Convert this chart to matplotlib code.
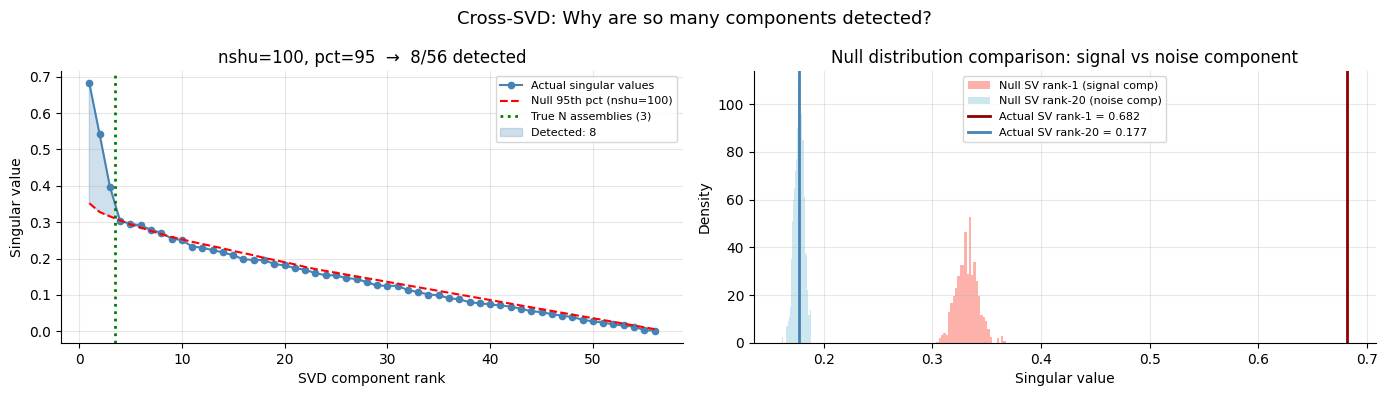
import numpy as np
from matplotlib import pyplot as plt

# left panel: singular values per SVD component rank
ranks = np.arange(1, 57)
actual_sv = [0.682, 0.542, 0.398, 0.303, 0.296, 0.291, 0.279, 0.271, 0.255, 0.251,
             0.233, 0.230, 0.223, 0.217, 0.209, 0.198, 0.196, 0.196, 0.185, 0.181,
             0.174, 0.169, 0.160, 0.154, 0.154, 0.146, 0.144, 0.135, 0.126, 0.125,
             0.125, 0.113, 0.108, 0.101, 0.099, 0.091, 0.088, 0.080, 0.077, 0.074,
             0.071, 0.068, 0.062, 0.055, 0.053, 0.047, 0.043, 0.039, 0.032, 0.027,
             0.024, 0.019, 0.016, 0.013, 0.003, 0.002]
null_95 = [0.352, 0.328, 0.316, 0.305, 0.294, 0.285, 0.276, 0.267, 0.259, 0.253,
           0.246, 0.240, 0.234, 0.228, 0.221, 0.215, 0.209, 0.202, 0.196, 0.190,
           0.184, 0.177, 0.171, 0.166, 0.161, 0.156, 0.151, 0.146, 0.141, 0.136,
           0.131, 0.126, 0.121, 0.116, 0.111, 0.106, 0.101, 0.096, 0.091, 0.086,
           0.081, 0.076, 0.071, 0.066, 0.061, 0.056, 0.051, 0.046, 0.041, 0.036,
           0.031, 0.026, 0.021, 0.016, 0.011, 0.006]
true_n = 3
n_detected = 8

# right panel: null distributions (30 bins each, density)
sig_range = (0.3037, 0.3675)
sig_density = [0.6, 2.0, 3.5, 4.3, 3.5, 13.0, 16.8, 19.7, 23.2, 28.0,
               32.6, 32.6, 46.6, 28.9, 52.7, 28.4, 33.8, 26.1, 19.6, 11.5,
               10.9, 9.0, 5.7, 2.5, 0.0, 0.0, 2.0, 0.0, 2.8, 0.7]
noise_range = (0.1614, 0.1877)
noise_density = [2.5, 0, 0, 0, 7, 7, 9, 11, 15, 35,
                 46, 51, 60, 65, 72, 77, 90, 108.5, 100, 93,
                 96, 85, 85, 61, 37.5, 37, 22, 11.6, 11.6, 13.7]
actual_rank1 = 0.682
actual_rank20 = 0.177

fig, (ax1, ax2) = plt.subplots(1, 2, figsize=(13.88, 3.96), dpi=100)
fig.subplots_adjust(left=0.044, right=0.991, top=0.821, bottom=0.134, wspace=0.114)
fig.suptitle('Cross-SVD: Why are so many components detected?', fontsize=13, y=0.975)

actual = np.array(actual_sv)
null = np.array(null_95)
ax1.plot(ranks, actual, 'o-', color='steelblue', ms=4.5, lw=1.5, label='Actual singular values')
ax1.plot(ranks, null, '--', color='red', lw=1.5, label='Null 95th pct (nshu=100)')
ax1.axvline(true_n + 0.5, color='green', ls=':', lw=2, label=f'True N assemblies ({true_n})')
ax1.fill_between(ranks, null, actual, where=actual > null, interpolate=True,
                 color='steelblue', alpha=0.25, label=f'Detected: {n_detected}')
ax1.set_xlabel('SVD component rank')
ax1.set_ylabel('Singular value')
ax1.set_title(f'nshu=100, pct=95  \u2192  {n_detected}/{len(ranks)} detected', fontsize=12)
ax1.legend(fontsize=8, loc='upper right')
ax1.grid(alpha=0.3)

sig_edges = np.linspace(sig_range[0], sig_range[1], len(sig_density) + 1)
noise_edges = np.linspace(noise_range[0], noise_range[1], len(noise_density) + 1)
ax2.hist(sig_edges[:-1], bins=sig_edges, weights=sig_density, color='salmon', alpha=0.6,
         label='Null SV rank-1 (signal comp)')
ax2.hist(noise_edges[:-1], bins=noise_edges, weights=noise_density, color='lightblue', alpha=0.6,
         label='Null SV rank-20 (noise comp)')
ax2.axvline(actual_rank1, color='darkred', lw=2, label=f'Actual SV rank-1 = {actual_rank1:.3f}')
ax2.axvline(actual_rank20, color='steelblue', lw=2, label=f'Actual SV rank-20 = {actual_rank20:.3f}')
ax2.set_xlabel('Singular value')
ax2.set_ylabel('Density')
ax2.set_title('Null distribution comparison: signal vs noise component', fontsize=12)
ax2.legend(fontsize=8, loc='upper center')
ax2.grid(alpha=0.3)

for ax in (ax1, ax2):
    ax.spines['top'].set_visible(False)
    ax.spines['right'].set_visible(False)

plt.savefig('out.png', dpi=100)
